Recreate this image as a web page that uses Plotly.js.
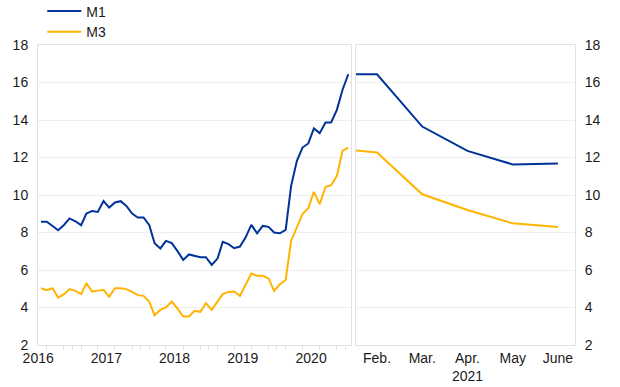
<!DOCTYPE html>
<html>
<head>
<meta charset="utf-8">
<script src="https://cdn.plot.ly/plotly-3.0.1.min.js"></script>
<style>
  html, body { margin: 0; padding: 0; background: #ffffff; }
  #chart { width: 620px; height: 387px; }
</style>
</head>
<body>
<div id="chart"></div>
<script>
// Monthly data, July 2016 - January 2021 (left panel)
const monthsLeft = [
  "2016-07-01","2016-08-01","2016-09-01","2016-10-01","2016-11-01","2016-12-01",
  "2017-01-01","2017-02-01","2017-03-01","2017-04-01","2017-05-01","2017-06-01",
  "2017-07-01","2017-08-01","2017-09-01","2017-10-01","2017-11-01","2017-12-01",
  "2018-01-01","2018-02-01","2018-03-01","2018-04-01","2018-05-01","2018-06-01",
  "2018-07-01","2018-08-01","2018-09-01","2018-10-01","2018-11-01","2018-12-01",
  "2019-01-01","2019-02-01","2019-03-01","2019-04-01","2019-05-01","2019-06-01",
  "2019-07-01","2019-08-01","2019-09-01","2019-10-01","2019-11-01","2019-12-01",
  "2020-01-01","2020-02-01","2020-03-01","2020-04-01","2020-05-01","2020-06-01",
  "2020-07-01","2020-08-01","2020-09-01","2020-10-01","2020-11-01","2020-12-01",
  "2021-01-01"
];
const m1Left = [
  8.57, 8.57, 8.35, 8.12, 8.40, 8.75,
  8.60, 8.39, 9.01, 9.15, 9.10, 9.68,
  9.33, 9.60, 9.67, 9.42, 9.01, 8.80,
  8.80, 8.39, 7.43, 7.15, 7.55, 7.43,
  7.02, 6.54, 6.83, 6.75, 6.68, 6.68,
  6.27, 6.61, 7.50, 7.38, 7.16, 7.25,
  7.73, 8.41, 7.96, 8.35, 8.30, 8.00,
  7.96, 8.14, 10.49, 11.82, 12.53, 12.75,
  13.55, 13.30, 13.87, 13.87, 14.54, 15.60,
  16.44
];
const m3Left = [
  5.03, 4.92, 5.03, 4.53, 4.71, 4.98,
  4.89, 4.71, 5.30, 4.85, 4.90, 4.94,
  4.57, 5.03, 5.03, 4.98, 4.83, 4.66,
  4.62, 4.30, 3.59, 3.87, 4.00, 4.32,
  3.95, 3.52, 3.52, 3.82, 3.77, 4.23,
  3.87, 4.30, 4.71, 4.83, 4.85, 4.62,
  5.19, 5.81, 5.69, 5.69, 5.55, 4.89,
  5.24, 5.47, 7.55, 8.27, 8.98, 9.30,
  10.17, 9.51, 10.43, 10.52, 11.02, 12.35,
  12.53
];
const yearLabels = ["2016","2017","2018","2019","2020"];
const yearCentres = ["2016-06-16","2017-06-16","2018-06-16","2019-06-16","2020-06-16"];

// Right panel: January - June 2021
const monthsRight = ["Jan.","Feb.","Mar.","Apr.","May","June"];
const monthTickText = ["Jan.","Feb.","Mar.","Apr.<br>2021","May","June"];
const m1Right = [16.44, 16.44, 13.65, 12.35, 11.63, 11.68];
const m3Right = [12.50, 12.27, 10.04, 9.20, 8.49, 8.30];

const seriesNames = ["M1","M3"];
const colM1 = "#003399";
const colM3 = "#ffb400";

// minor tick positions on the left axis: quarter centres and year boundaries
const minorTicks = [];
for (let y = 2016; y <= 2021; y++) {
  ["02-01","05-01","08-01","11-01","12-16"].forEach(md => minorTicks.push(y + "-" + md));
}

const traces = [
  {x: monthsLeft, y: m1Left, name: seriesNames[0], type: "scatter", mode: "lines",
   line: {color: colM1, width: 2}, xaxis: "x", yaxis: "y", legend: "legend"},
  {x: monthsLeft, y: m3Left, name: seriesNames[1], type: "scatter", mode: "lines",
   line: {color: colM3, width: 2}, xaxis: "x", yaxis: "y", legend: "legend2"},
  {x: monthsRight, y: m1Right, name: seriesNames[0], type: "scatter", mode: "lines",
   line: {color: colM1, width: 2}, xaxis: "x2", yaxis: "y2", showlegend: false},
  {x: monthsRight, y: m3Right, name: seriesNames[1], type: "scatter", mode: "lines",
   line: {color: colM3, width: 2}, xaxis: "x2", yaxis: "y2", showlegend: false}
];

const frame = "#e2e2e2";
const grid = "#eeeeee";
const font = {family: "Liberation Sans, Arial, sans-serif", size: 14, color: "#1a1a1a"};

const legendBase = {xanchor: "left", yanchor: "top", orientation: "v",
  bgcolor: "rgba(0,0,0,0)", font: font, itemwidth: 34, borderwidth: 0};

const layout = {
  width: 620, height: 387,
  margin: {l: 38, r: 45, t: 45, b: 42, pad: 0, autoexpand: false},
  paper_bgcolor: "#ffffff", plot_bgcolor: "#ffffff",
  font: font,
  showlegend: true,
  legend: Object.assign({}, legendBase, {x: 0.008, y: 1.165}),
  legend2: Object.assign({}, legendBase, {x: 0.008, y: 1.096}),
  xaxis: {
    domain: [0, 0.583], anchor: "y", type: "date",
    range: ["2016-06-15", "2021-01-16"],
    tickmode: "array", tickvals: yearCentres, ticktext: yearLabels,
    ticks: "", showgrid: false, zeroline: false,
    showline: true, mirror: true, linecolor: frame, linewidth: 1,
    minor: {tickmode: "array", tickvals: minorTicks, ticks: "outside", ticklen: 4,
            tickcolor: frame, showgrid: false},
    tickfont: font, fixedrange: true
  },
  yaxis: {
    domain: [0, 1], anchor: "x", range: [2, 18], dtick: 2, tick0: 2,
    showgrid: true, gridcolor: grid, zeroline: false,
    showline: true, mirror: true, linecolor: frame, linewidth: 1,
    ticks: "", ticklabelstandoff: 6, tickfont: font
  },
  xaxis2: {
    domain: [0.592, 1], anchor: "y2", type: "category",
    range: [0.533, 5.378],
    tickmode: "array", tickvals: monthsRight, ticktext: monthTickText,
    ticks: "", showgrid: false, zeroline: false,
    showline: true, mirror: true, linecolor: frame, linewidth: 1,
    tickfont: font
  },
  yaxis2: {
    domain: [0, 1], anchor: "x2", side: "right", range: [2, 18], dtick: 2, tick0: 2,
    showgrid: true, gridcolor: grid, zeroline: false,
    showline: true, mirror: true, linecolor: frame, linewidth: 1,
    ticks: "", ticklabelstandoff: 6, tickfont: font
  }
};

Plotly.newPlot("chart", traces, layout, {displayModeBar: false, staticPlot: true});
</script>
</body>
</html>
